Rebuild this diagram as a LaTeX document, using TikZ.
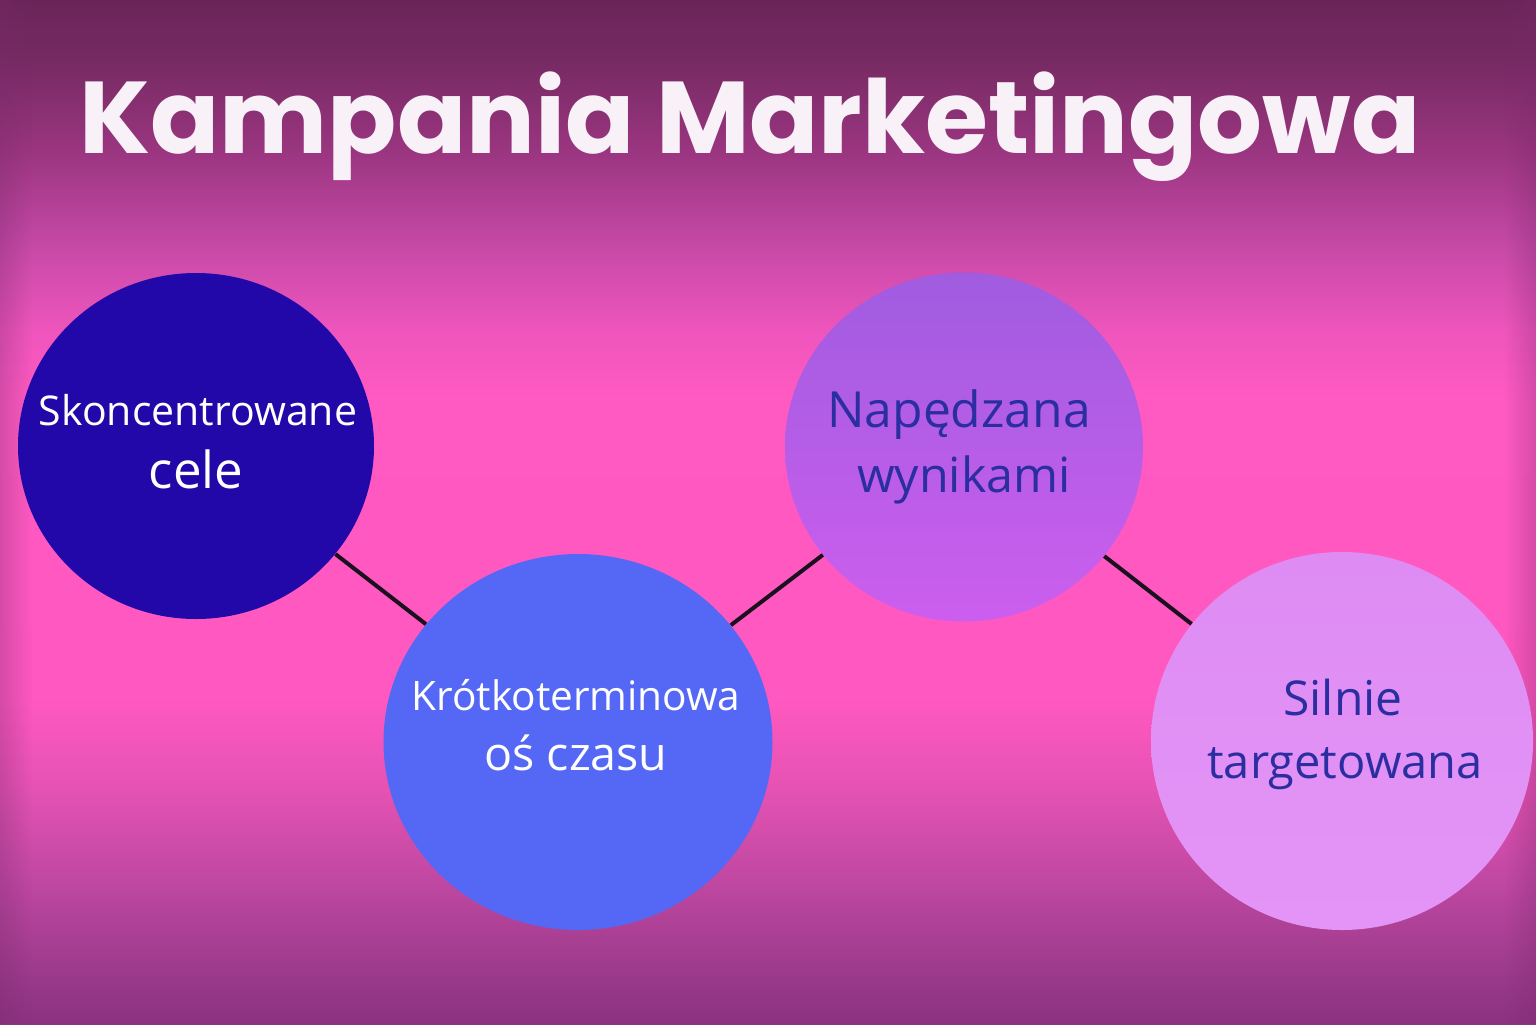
\documentclass[tikz,border=0pt]{standalone}
\usepackage{fontspec}
\setmainfont{Open Sans}
\newfontfamily\titlefont{Poppins}
\usetikzlibrary{shapes.geometric,fadings}
\definecolor{bgA}{HTML}{6A2558}
\definecolor{bgB}{HTML}{762A62}
\definecolor{bgC}{HTML}{9A3580}
\definecolor{bgD}{HTML}{C84AA8}
\definecolor{bgE}{HTML}{EE55BC}
\definecolor{bgF}{HTML}{FF5AC2}
\definecolor{bgG}{HTML}{FF58C0}
\definecolor{bgH}{HTML}{E853B5}
\definecolor{bgI}{HTML}{C048A2}
\definecolor{bgJ}{HTML}{A03C8E}
\definecolor{bgK}{HTML}{8A3280}
\definecolor{edge}{HTML}{7A2A6A}
\definecolor{cOne}{HTML}{2208A8}
\definecolor{cTwo}{HTML}{5468F5}
\definecolor{cThreeT}{HTML}{A05CE0}
\definecolor{cThreeB}{HTML}{CC5EEE}
\definecolor{cFourT}{HTML}{DE8CF3}
\definecolor{cFourB}{HTML}{E494F6}
\definecolor{darktext}{HTML}{2A2EA0}
\definecolor{titlecol}{HTML}{F8F2F8}
\definecolor{linkcol}{HTML}{1A1020}
\pgfdeclareverticalshading{bgshade}{100bp}{%
color(0bp)=(bgK); color(25bp)=(bgK); color(28.13bp)=(bgJ); color(32.03bp)=(bgI);
color(36.91bp)=(bgH); color(40.82bp)=(bgG); color(55.47bp)=(bgF); color(58.89bp)=(bgE);
color(62.79bp)=(bgD); color(67.68bp)=(bgC); color(72.07bp)=(bgB); color(75bp)=(bgA); color(100bp)=(bgA)}
\tikzfading[name=fadeRight, left color=transparent!0, right color=transparent!100]
\tikzfading[name=fadeLeft, left color=transparent!100, right color=transparent!0]
\tikzset{
  bubble/.style={ellipse, inner sep=0pt, draw=none},
  link/.style={draw=linkcol, line width=2pt},
  lighttext/.style={text=white, align=center},
  darklabel/.style={text=darktext, align=center},
}
\begin{document}
\begin{tikzpicture}[x=0.5pt,y=-0.5pt]
\useasboundingbox (0,0) rectangle (1536,1024);
% background
\shade[shading=bgshade] (0,0) rectangle (1536,1024);
\fill[edge, opacity=0.3, path fading=fadeRight] (0,0) rectangle (32,1024);
\fill[edge, opacity=0.3, path fading=fadeLeft] (1504,0) rectangle (1536,1024);
% title
\node[text=titlecol, anchor=base, font=\titlefont\bfseries\fontsize{51}{56}\selectfont] (title) at (750,153) {Kampania Marketingowa};
% bubbles
\node[bubble, fill=cOne, minimum width=178pt, minimum height=173pt] (b1) at (196,446) {};
\node[bubble, fill=cTwo, minimum width=194.5pt, minimum height=188pt] (b2) at (578,742) {};
\node[bubble, top color=cThreeT, bottom color=cThreeB, minimum width=179pt, minimum height=174.5pt] (b3) at (964,447) {};
\node[bubble, top color=cFourT, bottom color=cFourB, minimum width=191pt, minimum height=189pt] (b4) at (1342,741) {};
% links
\draw[link] (b1) -- (b2);
\draw[link] (b2) -- (b3);
\draw[link] (b3) -- (b4);
% texts
\node[lighttext, anchor=base] (t1a) at (198,425) {\fontsize{20.5}{22}\selectfont Skoncentrowane};
\node[lighttext, anchor=base] (t1b) at (196,488) {\fontsize{25.5}{27}\selectfont cele};
\node[lighttext, anchor=base] (t2a) at (576,710) {\fontsize{20.3}{22}\selectfont Krótkoterminowa};
\node[lighttext, anchor=base] (t2b) at (576,770) {\fontsize{23.3}{25}\selectfont oś czasu};
\node[darklabel, anchor=base] (t3a) at (959,427) {\fontsize{24.9}{27}\selectfont Napędzana};
\node[darklabel, anchor=base] (t3b) at (964,492) {\fontsize{24.2}{26}\selectfont wynikami};
\node[darklabel, anchor=base] (t4a) at (1343,715) {\fontsize{24}{26}\selectfont Silnie};
\node[darklabel, anchor=base] (t4b) at (1345,778) {\fontsize{23.5}{25}\selectfont targetowana};
\end{tikzpicture}
\end{document}
